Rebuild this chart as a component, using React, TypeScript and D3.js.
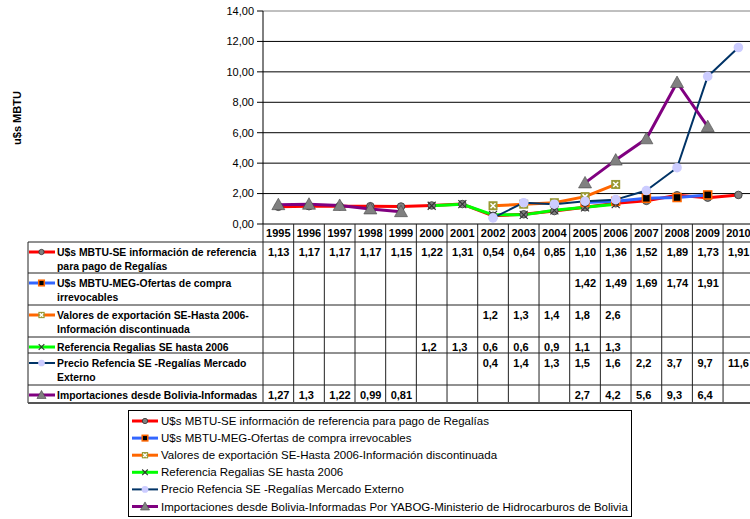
import React from 'react';
import * as d3 from 'd3';

const years = ['1995','1996','1997','1998','1999','2000','2001','2002','2003','2004','2005','2006','2007','2008','2009','2010'];
type V = number | null;
const s1: V[] = [1.13,1.17,1.17,1.17,1.15,1.22,1.31,0.54,0.64,0.85,1.10,1.36,1.52,1.89,1.73,1.91];
const s2: V[] = [null,null,null,null,null,null,null,null,null,null,1.42,1.49,1.69,1.74,1.91,null];
const s3: V[] = [null,null,null,null,null,null,null,1.2,1.3,1.4,1.8,2.6,null,null,null,null];
const s4: V[] = [null,null,null,null,null,1.2,1.3,0.6,0.6,0.9,1.1,1.3,null,null,null,null];
const s5: V[] = [null,null,null,null,null,null,null,0.4,1.4,1.3,1.5,1.6,2.2,3.7,9.7,11.6];
const s6: V[] = [1.27,1.3,1.22,0.99,0.81,null,null,null,null,null,2.7,4.2,5.6,9.3,6.4,null];
const yTicks = [0,2,4,6,8,10,12,14];

const tableLabels: string[][] = [
  ['U$s MBTU-SE información de referencia', 'para pago de Regalías'],
  ['U$s MBTU-MEG-Ofertas de compra', 'irrevocables'],
  ['Valores de exportación SE-Hasta 2006-', 'Información discontinuada'],
  ['Referencia Regalias SE hasta 2006'],
  ['Precio Refencia SE -Regalías Mercado', 'Externo'],
  ['Importaciones desde Bolivia-Informadas'],
];
const legendLabels = [
  'U$s MBTU-SE información de referencia para pago de Regalías',
  'U$s MBTU-MEG-Ofertas de compra irrevocables',
  'Valores de exportación SE-Hasta 2006-Información discontinuada',
  'Referencia Regalias SE hasta 2006',
  'Precio Refencia SE -Regalías Mercado Externo',
  'Importaciones desde Bolivia-Informadas Por YABOG-Ministerio de Hidrocarburos de Bolivia',
];
const seriesData = [s1, s2, s3, s4, s5, s6];
const decimals: (number | null)[] = [2, 2, 1, 1, 1, null];

const colors = ['#FF0000', '#3366FF', '#FF6600', '#00FF00', '#003366', '#800080'];
const widths = [3, 3, 3, 3, 2, 3];
const markers = ['circle', 'square', 'xsquare', 'x', 'lcircle', 'triangle'];

const FONT = 'Liberation Sans, Arial, sans-serif';
const plotLeft = 263, plotTop = 11, plotBottom = 224, colW = 30.67;
const tableLeft = 28;
const rowTops = [242, 273, 305, 337, 353, 385, 403];

function Marker({ type, x, y, s = 1 }: { type: string; x: number; y: number; s?: number }) {
  switch (type) {
    case 'circle':
      return <circle cx={x} cy={y} r={3.8 * s} fill="#808080" stroke="#333" strokeWidth={0.8} />;
    case 'square':
      return <rect x={x - 4 * s} y={y - 4 * s} width={8 * s} height={8 * s} fill="#000" stroke="#FF6600" strokeWidth={1.5} />;
    case 'xsquare':
      return (
        <g>
          <rect x={x - 4.5 * s} y={y - 4.5 * s} width={9 * s} height={9 * s} fill="#999933" />
          <path d={`M${x - 2.5 * s},${y - 2.5 * s}L${x + 2.5 * s},${y + 2.5 * s}M${x + 2.5 * s},${y - 2.5 * s}L${x - 2.5 * s},${y + 2.5 * s}`} stroke="#fff" strokeWidth={1.5} />
        </g>
      );
    case 'x':
      return <path d={`M${x - 4 * s},${y - 4 * s}L${x + 4 * s},${y + 4 * s}M${x + 4 * s},${y - 4 * s}L${x - 4 * s},${y + 4 * s}`} stroke="#333" strokeWidth={1.1} />;
    case 'lcircle':
      return <circle cx={x} cy={y} r={4.8 * s} fill="#CCCCFF" />;
    case 'triangle':
      return <path d={`M${x},${y - 6.5 * s}L${x + 6.5 * s},${y + 5 * s}L${x - 6.5 * s},${y + 5 * s}Z`} fill="#808080" stroke="#444" strokeWidth={0.6} />;
  }
  return null;
}

function fmt(v: number, dec: number | null) {
  const s = dec == null ? String(v) : v.toFixed(dec);
  return s.replace('.', ',');
}

export default function App() {
  const x = d3.scaleBand<string>().domain(years).range([plotLeft, plotLeft + colW * years.length]).padding(0);
  const y = d3.scaleLinear().domain([0, 14]).range([plotBottom, plotTop]);
  const cx = (yr: string) => (x(yr) as number) + x.bandwidth() / 2;

  const line = d3.line<V>()
    .defined(d => d != null)
    .x((_, i) => cx(years[i]))
    .y(d => y(d as number));

  const tableRight = 750;

  return (
    <div style={{ position: 'absolute', left: 0, top: 0 }}>
      <svg width={750} height={519} style={{ display: 'block', background: '#fff' }} fontFamily={FONT}>
        {/* gridlines */}
        {yTicks.map(t => (
          <line key={t} x1={plotLeft} x2={750} y1={y(t)} y2={y(t)} stroke={t === 14 ? '#808080' : '#000'} strokeWidth={1} />
        ))}
        {/* y axis */}
        <line x1={plotLeft} x2={plotLeft} y1={plotTop} y2={plotBottom} stroke="#000" strokeWidth={1} />
        {yTicks.map(t => (
          <g key={'t' + t}>
            <line x1={plotLeft - 6} x2={plotLeft} y1={y(t)} y2={y(t)} stroke="#000" />
            <text x={plotLeft - 9} y={y(t)} dy="0.35em" textAnchor="end" fontSize={11} fill="#000">{t.toFixed(2).replace('.', ',')}</text>
          </g>
        ))}
        <text transform="translate(21,118) rotate(-90)" textAnchor="middle" fontSize={11} fontWeight="bold">u$s MBTU</text>

        {/* series lines */}
        {seriesData.map((s, si) => (
          <path key={'l' + si} d={line(s) || ''} fill="none" stroke={colors[si]} strokeWidth={widths[si]} strokeLinejoin="round" />
        ))}
        {seriesData.map((s, si) => (
          <g key={'m' + si}>
            {s.map((v, i) => v == null ? null : <Marker key={i} type={markers[si]} x={cx(years[i])} y={y(v)} />)}
          </g>
        ))}

        {/* table */}
        <g stroke="#222" strokeWidth={1}>
          {years.map(yr => (
            <line key={'v' + yr} x1={(x(yr) as number)} x2={(x(yr) as number)} y1={plotBottom} y2={rowTops[6]} />
          ))}
          <line x1={plotLeft + colW * 16} x2={plotLeft + colW * 16} y1={plotBottom} y2={rowTops[6]} />
          <line x1={tableLeft} x2={tableLeft} y1={rowTops[0]} y2={rowTops[6]} />
          {rowTops.slice(0, 6).map((rt, i) => (
            <line key={'h' + i} x1={tableLeft} x2={tableRight} y1={rt} y2={rt} />
          ))}
          <line x1={tableLeft} x2={tableRight} y1={rowTops[6]} y2={rowTops[6]} stroke="#555" strokeWidth={2} />
        </g>
        {years.map(yr => (
          <text key={'y' + yr} x={cx(yr)} y={233.5} dy="0.35em" textAnchor="middle" fontSize={11} fontWeight="bold">{yr}</text>
        ))}
        {seriesData.map((s, si) => {
          const top = rowTops[si];
          return (
            <g key={'r' + si}>
              <line x1={tableLeft + 1} x2={55} y1={top + 10} y2={top + 10} stroke={colors[si]} strokeWidth={widths[si]} />
              <Marker type={markers[si]} x={41.5} y={top + 10} s={0.7} />
              {tableLabels[si].map((ln, li) => (
                <text key={li} x={57} y={top + 10 + li * 14} dy="0.35em" fontSize={10.4} fontWeight="bold">{ln}</text>
              ))}
              {s.map((v, i) => v == null ? null : (
                <text key={i} x={(x(years[i]) as number) + 5} y={top + 10} dy="0.35em" fontSize={11} fontWeight="bold">{fmt(v, decimals[si])}</text>
              ))}
            </g>
          );
        })}

        {/* legend */}
        <rect x={128.5} y={410.5} width={503} height={106} fill="#fff" stroke="#000" strokeWidth={1} />
        {legendLabels.map((lab, i) => {
          const ly = 421 + i * 17.1;
          return (
            <g key={'lg' + i}>
              <line x1={132} x2={158} y1={ly} y2={ly} stroke={colors[i]} strokeWidth={widths[i]} />
              <Marker type={markers[i]} x={145} y={ly} s={0.7} />
              <text x={161} y={ly} dy="0.35em" fontSize={11.5}>{lab}</text>
            </g>
          );
        })}
      </svg>
    </div>
  );
}
